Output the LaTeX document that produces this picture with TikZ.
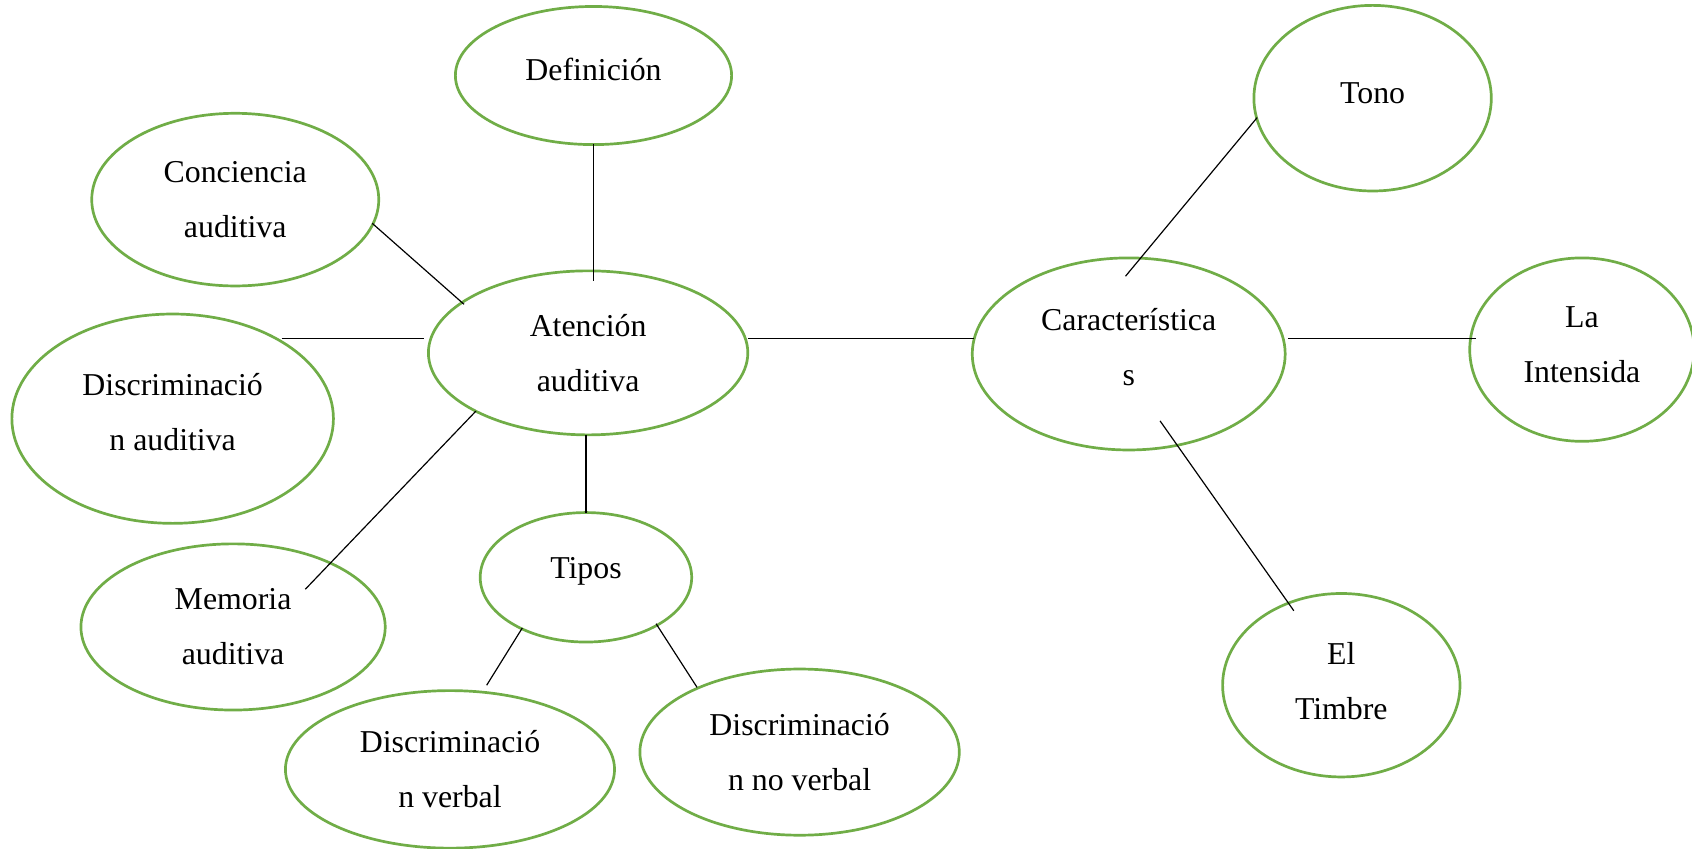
\documentclass[tikz,border=0pt]{standalone}
\usepackage{fontspec}
\setmainfont{Liberation Serif}
\usetikzlibrary{shapes.geometric,calc}
\definecolor{bubblegreen}{HTML}{70AD47}
\tikzset{
  bubble/.style n args={2}{ellipse, draw=bubblegreen, line width=2.5pt, fill=white,
    minimum width=#1pt, minimum height=#2pt, inner sep=0pt, align=center,
    font=\fontsize{29.5}{51}\selectfont},
  lift/.style={text depth=#1},
  link/.style={draw=black, line width=1.1pt}
}
\begin{document}
\begin{tikzpicture}[x=1pt,y=-1pt]
\useasboundingbox (0,0) rectangle (1568,786);
% nodes
\node[bubble={256}{128}, lift=12pt] (def) at (550,70) {Definición};
\node[bubble={266}{160}] (con) at (218,185) {Conciencia\\auditiva};
\node[bubble={298}{194}, lift=12pt] (dis) at (160,388) {Discriminació\\n auditiva};
\node[bubble={296}{152}] (att) at (545,327) {Atención\\auditiva};
\node[bubble={282}{154}] (mem) at (216,581) {Memoria\\auditiva};
\node[bubble={196}{120}, lift=18pt] (tip) at (543,535) {Tipos};
\node[bubble={305}{146}] (dv) at (417,713) {Discriminació\\n verbal};
\node[bubble={296}{154}] (dnv) at (741,697) {Discriminació\\n no verbal};
\node[bubble={290}{178}, lift=13pt] (car) at (1046,328) {Característica\\s};
\node[bubble={220}{172}, lift=10pt] (ton) at (1272,91) {Tono};
\node[bubble={208}{170}, lift=10pt] (int) at (1466,324) {La\\Intensida};
\node[bubble={220}{170}, lift=8pt] (tim) at (1243,635) {El\\Timbre};
% connectors
\draw[link] ($(def)+(0,63)$) -- ($(att)+(5,-67)$);
\draw[link] ($(con)+(127,22)$) -- ($(att)+(-115,-45)$);
\draw[link] ($(dis)+(101,-74)$) -- ($(att)+(-152,-13)$);
\draw[link] ($(att)+(-104,54)$) -- ($(mem)+(67,-35)$);
\draw[link] ($(att)+(-2,76)$) -- ($(tip)+(0,-60)$);
\draw[link] ($(att)+(148,-13)$) -- ($(car)+(-143,-14)$);
\draw[link] ($(car)+(-3,-72)$) -- ($(ton)+(-107,18)$);
\draw[link] ($(car)+(148,-14)$) -- ($(int)+(-98,-10)$);
\draw[link] ($(car)+(29,62)$) -- ($(tim)+(-44,-69)$);
\draw[link] ($(tip)+(-59,47)$) -- ($(dv)+(34,-78)$);
\draw[link] ($(tip)+(65,43)$) -- ($(dnv)+(-95,-60)$);
\end{tikzpicture}
\end{document}
